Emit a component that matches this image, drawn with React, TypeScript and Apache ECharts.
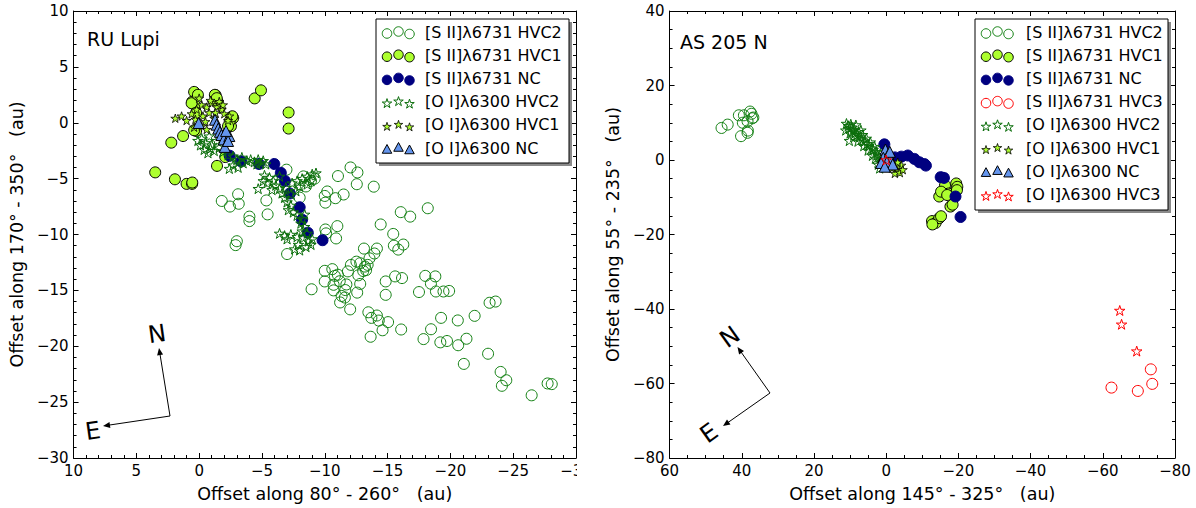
import React, { useEffect, useRef } from 'react';
import * as echarts from 'echarts';

// ---------- RU Lupi (left panel) ----------
const ruSiiHvc2: number[][] = [
  [-1.8, -7.0], [-2.45, -7.5], [-3.15, -7.25], [-3.1, -6.4], [-4.0, -8.4], [-4.0, -8.8], [-3.0, -10.6], [-2.9, -10.95],
  [-5.45, -8.2], [-5.35, -6.95], [-6.95, -4.2], [-8.0, -6.7], [-7.0, -11.75], [-8.95, -14.9], [-10.0, -6.55], [-10.2, -6.15],
  [-11.05, -4.77], [-12.05, -4.0], [-12.6, -4.45], [-12.55, -5.5], [-13.9, -5.72], [-11.5, -6.42], [-10.85, -6.75], [-10.05, -7.15],
  [-10.05, -9.55], [-10.1, -9.9], [-11.0, -9.25], [-10.9, -10.35], [-8.3, -4.8], [-8.9, -5.2], [-8.5, -5.7], [-9.2, -5.0],
  [-10.0, -13.25], [-10.0, -14.2], [-10.6, -13.1], [-10.8, -13.7], [-10.7, -14.5], [-10.7, -15.0],
  [-11.04, -13.6], [-11.19, -14.18], [-11.72, -14.47], [-11.63, -14.97], [-11.84, -13.3], [-12.08, -12.72], [-12.52, -12.43],
  [-12.82, -12.57], [-12.67, -13.65], [-13.12, -11.26], [-13.56, -12.13], [-14.15, -11.26], [-13.95, -11.7], [-13.29, -13.19],
  [-13.41, -12.72], [-11.34, -15.5], [-11.22, -16.08], [-11.6, -15.64], [-12.02, -16.7], [-12.82, -14.42], [-12.58, -15.2],
  [-13.06, -13.27], [-13.2, -12.87],
  [-14.45, -9.1], [-15.45, -9.95], [-15.5, -11.0], [-15.85, -11.35], [-16.25, -10.9], [-16.05, -8.0], [-16.8, -8.4], [-18.2, -7.65],
  [-14.85, -14.2], [-14.85, -15.4], [-15.6, -13.75], [-16.15, -13.9], [-17.5, -15.15], [-18.0, -13.7], [-18.45, -14.4],
  [-18.8, -13.75], [-18.85, -15.1], [-19.45, -15.1], [-19.9, -15.05],
  [-13.47, -16.96], [-13.71, -17.46], [-14.15, -17.25], [-14.3, -17.7], [-13.65, -19.15], [-14.6, -18.57], [-15.04, -17.84],
  [-16.08, -18.5], [-19.26, -17.46], [-18.46, -18.48], [-17.86, -19.36], [-19.2, -19.65], [-19.73, -19.53], [-20.59, -17.69],
  [-20.62, -19.91], [-21.28, -19.33], [-21.93, -17.28], [-21.07, -21.58], [-23.0, -20.67], [-23.12, -16.11], [-23.6, -16.0],
  [-24.0, -22.3], [-24.1, -23.54], [-24.45, -23.04], [-26.47, -24.39], [-27.74, -23.33], [-28.07, -23.39],
];
const ruSiiHvc1: number[][] = [
  [0.4, 2.76], [0.56, 1.88], [-1.31, 2.47], [-1.47, 1.88], [-2.53, -0.31], [-2.71, 0.42], [-4.42, 2.18], [-4.92, 2.9],
  [-7.12, 0.92], [-7.12, -0.52], [2.22, -1.78], [1.28, -1.19], [1.93, -5.06], [1.0, -5.47], [0.56, -5.47], [-1.42, -3.86],
  [3.5, -4.44], [-2.08, -3.07], [0.36, 1.6], [0.6, 1.75], [0.1, 2.5], [-1.25, 2.5], [-1.4, 2.2], [0.24, -0.73], [0.4, -0.67],
  [-2.43, 0.15], [-2.64, 0.58], [-2.3, -0.3], [0.24, 0.88], [0.55, -5.35],
];
const ruSiiNc: number[][] = [
  [-2.43, -2.95], [-3.33, -3.45], [-4.76, -3.69], [-5.98, -3.69], [-6.5, -4.48], [-6.83, -5.21], [-7.22, -6.33],
  [-8.0, -7.56], [-8.19, -8.67], [-8.65, -9.84], [-9.82, -10.51],
];
const ruOiHvc2: number[][] = [
  [-0.2, -1.4], [-0.5, -1.8], [-0.8, -1.2], [-1.0, -2.0], [-0.4, -2.4], [-0.7, -2.7], [-1.2, -2.5], [-1.4, -1.6], [-0.1, -2.0],
  [-0.9, -2.3], [-1.6, -2.2], [0.1, -1.6],
  [-1.9, -2.6], [-2.3, -2.9], [-2.7, -3.0], [-3.0, -3.3], [-3.4, -3.1], [-3.8, -3.4], [-4.1, -3.3], [-4.4, -3.5], [-4.7, -3.3],
  [-4.9, -3.6], [-5.1, -3.4], [-5.3, -3.7], [-4.6, -3.7], [-2.4, -4.1], [-2.7, -3.8], [-3.5, -3.6], [-3.1, -4.0],
  [-5.2, -4.7], [-5.6, -4.9], [-5.9, -5.2], [-5.4, -5.4], [-6.1, -5.6], [-5.8, -6.0], [-6.4, -5.9], [-6.6, -6.3], [-4.7, -5.9],
  [-5.1, -5.2], [-6.8, -6.7], [-7.0, -7.1], [-7.3, -7.4], [-7.1, -7.8], [-7.5, -8.0], [-7.8, -8.3], [-8.2, -8.6], [-8.4, -8.2],
  [-8.1, -9.0], [-8.4, -9.3], [-8.2, -9.7], [-8.6, -9.9], [-8.3, -10.3], [-7.8, -10.2], [-7.3, -10.0], [-6.8, -10.1],
  [-6.4, -9.9], [-7.0, -10.4], [-8.7, -10.6], [-8.9, -10.9], [-8.5, -11.1], [-7.9, -10.9], [-7.6, -11.3], [-9.0, -10.4],
  [-8.0, -11.4],
  [-7.4, -5.4], [-7.8, -5.2], [-8.2, -5.0], [-8.6, -4.8], [-9.0, -4.6], [-9.3, -4.5], [-8.0, -5.7], [-7.7, -6.1], [-8.6, -5.5],
  [-8.9, -5.2], [-7.3, -6.4], [-6.9, -5.8], [-6.4, -4.8],
];
const ruOiHvc1: number[][] = [
  [1.9, 0.4], [1.4, 0.6], [1.0, 0.2], [0.6, 0.8], [0.2, 1.2], [-0.2, 1.6], [-0.6, 1.4], [-1.0, 1.8], [-1.4, 1.4], [-1.8, 1.2],
  [-2.0, 0.8], [-2.4, 0.6], [-0.3, 0.6], [-0.8, 0.9], [0.3, 0.3], [-1.2, 0.4], [-0.5, 0.1], [0.0, 2.2], [-0.9, 2.0], [-1.6, 1.9],
  [-0.2, -0.3], [-0.6, -0.6], [0.4, -0.4], [-1.3, 0.9], [-2.3, 0.2], [-1.9, 1.6],
];
const ruOiNc: number[][] = [
  [0.04, -0.02], [-1.26, 0.27], [-1.39, -0.17], [-1.52, -0.52], [-1.65, -0.81], [-1.77, -1.1], [-1.96, -1.49], [-2.04, -2.16],
  [-2.4, -1.19], [-2.3, -1.63], [-2.14, -0.73],
];

// ---------- AS 205 N (right panel) ----------
const asSiiHvc2: number[][] = [
  [45.6, 8.6], [43.9, 9.5], [40.8, 12.0], [39.4, 12.0], [37.7, 13.0], [37.3, 12.4], [36.8, 11.4], [38.4, 10.4], [37.1, 11.2],
  [39.7, 10.0], [40.2, 6.4], [38.4, 7.3], [38.3, 7.9],
];
const asSiiHvc1: number[][] = [
  [-16.3, -6.8], [-19.4, -6.3], [-19.7, -7.2], [-18.0, -9.0], [-17.3, -9.0], [-14.7, -9.8], [-15.2, -8.5], [-17.8, -12.5],
  [-18.4, -12.0], [-12.7, -16.4], [-13.7, -16.9], [-14.7, -15.6], [-15.2, -15.1], [-12.8, -17.3], [-19.6, -8.1], [-16.9, -9.4],
];
const asSiiNc: number[][] = [
  [0.5, 4.2], [-2.4, 0.7], [-4.2, 0.9], [-6.0, 1.2], [-7.8, 0.3], [-9.2, -0.6], [-10.6, -1.1], [-11.0, -1.5], [-15.1, -4.6],
  [-16.0, -4.8], [-19.2, -9.8], [-20.6, -15.3],
];
const asSiiHvc3: number[][] = [[-62.4, -61.1], [-69.7, -62.0], [-73.3, -56.2], [-73.7, -60.1]];
const asOiHvc2: number[][] = [
  [11.0, 9.8], [10.5, 9.2], [10.2, 8.5], [11.2, 8.0], [9.8, 9.6], [9.5, 8.8], [9.2, 7.9], [10.0, 7.2], [8.8, 8.2], [8.5, 7.4],
  [8.0, 6.8], [7.6, 7.6], [7.2, 6.2], [6.8, 5.6], [6.5, 6.8], [6.0, 5.0], [5.5, 5.8], [5.2, 4.4], [4.8, 3.8], [4.4, 4.8],
  [4.0, 3.2], [3.6, 2.8], [3.2, 3.6], [2.8, 2.2], [2.4, 1.4], [2.0, 0.8], [1.6, 1.8], [1.2, 0.2], [0.8, -0.6], [2.2, -1.2],
  [1.8, -2.2], [3.0, 0.4], [10.2, 5.2], [9.0, 6.2], [7.8, 5.0], [6.2, 3.8], [5.0, 2.6], [3.8, 1.2], [7.0, 8.0], [8.4, 9.4],
];
const asOiHvc1: number[][] = [
  [-2.0, -1.0], [-2.8, -1.6], [-3.5, -2.2], [-4.2, -1.4], [-3.0, -3.0], [-2.4, -3.6], [-3.8, -3.4], [-4.6, -2.6], [-1.6, -2.2],
  [-3.2, -0.6],
];
const asOiNc: number[][] = [
  [0.2, 2.8], [-0.6, 1.6], [0.8, 0.6], [-1.2, 0.2], [-0.2, -0.6], [1.4, -0.8], [-1.8, -1.2], [0.4, -1.8], [-1.0, 2.2],
];
const asOiHvc3: number[][] = [[0, 0], [-64.7, -40.4], [-65.2, -44.1], [-69.4, -51.3]];

const ruLegendLabels = [
  '[S II]λ6731 HVC2', '[S II]λ6731 HVC1', '[S II]λ6731 NC', '[O I]λ6300 HVC2', '[O I]λ6300 HVC1', '[O I]λ6300 NC',
];
const asLegendLabels = [
  '[S II]λ6731 HVC2', '[S II]λ6731 HVC1', '[S II]λ6731 NC', '[S II]λ6731 HVC3',
  '[O I]λ6300 HVC2', '[O I]λ6300 HVC1', '[O I]λ6300 NC', '[O I]λ6300 HVC3',
];

const FONT = 'DejaVu Sans';
const STAR = 'path://M50,0 L61.2,34.6 L97.6,34.5 L68.1,55.9 L79.4,90.5 L50,69 L20.6,90.5 L31.9,55.9 L2.4,34.5 L38.8,34.6 Z';
const CLEAR = 'rgba(0,0,0,0)';

type Sty = { kind: 'circle' | 'star' | 'tri'; fill: string; stroke: string; size: number; lsize: number; lw: number };
const S_HVC2: Sty = { kind: 'circle', fill: CLEAR, stroke: '#118011', size: 11, lsize: 9.5, lw: 1 };
const S_HVC1: Sty = { kind: 'circle', fill: '#adff2f', stroke: '#000', size: 11, lsize: 9.5, lw: 1 };
const S_NC: Sty = { kind: 'circle', fill: '#000080', stroke: '#000080', size: 11, lsize: 9.5, lw: 1 };
const S_HVC3: Sty = { kind: 'circle', fill: CLEAR, stroke: '#ff0000', size: 11, lsize: 9.5, lw: 1 };
const O_HVC2: Sty = { kind: 'star', fill: CLEAR, stroke: '#0b6e0b', size: 10.5, lsize: 9, lw: 1 };
const O_HVC1: Sty = { kind: 'star', fill: '#adff2f', stroke: '#000', size: 9, lsize: 8, lw: 0.8 };
const O_NC: Sty = { kind: 'tri', fill: '#6495ed', stroke: '#000', size: 11, lsize: 10, lw: 1 };
const O_HVC3: Sty = { kind: 'star', fill: CLEAR, stroke: '#ff0000', size: 10.5, lsize: 9, lw: 1 };

function series(name: string, data: number[][], s: Sty) {
  return {
    type: 'scatter', name, data, xAxisIndex: 0, yAxisIndex: 0,
    symbol: s.kind === 'circle' ? 'circle' : s.kind === 'tri' ? 'triangle' : STAR,
    symbolKeepAspect: true,
    symbolSize: s.size,
    itemStyle: { color: s.fill, borderColor: s.stroke, borderWidth: s.lw, opacity: 1 },
    silent: true,
  };
}

const minus = (v: number) => String(v).replace('-', '\u2212');

function axes(xr: number[], xInt: number, xMinor: number, yr: number[], yInt: number, yMinor: number, xName: string, yName: string) {
  const base = (min: number, max: number, interval: number, minor: number) => ({
    type: 'value', min, max, interval,
    axisLine: { show: true, onZero: false, lineStyle: { color: '#000', width: 1 } },
    axisTick: { show: true, inside: true, length: 5, lineStyle: { color: '#000', width: 1 } },
    minorTick: { show: true, splitNumber: minor, length: 3, lineStyle: { color: '#000', width: 1 } },
    splitLine: { show: false },
    minorSplitLine: { show: false },
    axisLabel: { show: true, color: '#000', fontSize: 15, fontFamily: FONT, margin: 5, formatter: minus },
  });
  const nameStyle = { color: '#000', fontSize: 17.5, fontFamily: FONT };
  return {
    xAxis: [
      { ...base(xr[0], xr[1], xInt, xMinor), inverse: true, position: 'bottom', name: xName, nameLocation: 'middle', nameGap: 27, nameTextStyle: nameStyle },
      { ...base(xr[0], xr[1], xInt, xMinor), inverse: true, position: 'top', axisLabel: { show: false } },
    ],
    yAxis: [
      { ...base(yr[0], yr[1], yInt, yMinor), position: 'left', name: yName, nameLocation: 'middle', nameGap: 44, nameTextStyle: nameStyle },
      { ...base(yr[0], yr[1], yInt, yMinor), position: 'right', axisLabel: { show: false } },
    ],
  };
}

function starPts(cx: number, cy: number, R: number) {
  const pts: number[][] = [];
  for (let k = 0; k < 10; k++) {
    const a = (-90 + k * 36) * Math.PI / 180;
    const r = k % 2 === 0 ? R : R * 0.38;
    pts.push([cx + r * Math.cos(a), cy + r * Math.sin(a)]);
  }
  return pts;
}

function icon(s: Sty, cx: number, cy: number) {
  const style = { fill: s.fill === CLEAR ? 'none' : s.fill, stroke: s.stroke, lineWidth: s.lw };
  const r = s.lsize / 2;
  if (s.kind === 'circle') return { type: 'circle', z: 101, shape: { cx, cy, r }, style };
  if (s.kind === 'tri') return { type: 'polygon', z: 101, shape: { points: [[cx, cy - r], [cx + r * 0.95, cy + r * 0.75], [cx - r * 0.95, cy + r * 0.75]] }, style };
  return { type: 'polygon', z: 101, shape: { points: starPts(cx, cy + 0.5, r + 0.5) }, style };
}

function legend(x0: number, y0: number, w: number, h: number, labels: string[], stys: Sty[], mx: number[], tx: number) {
  const els: any[] = [
    { type: 'rect', z: 99, shape: { x: x0 + 3, y: y0 + 3, width: w, height: h }, style: { fill: '#8a8a8a' } },
    { type: 'rect', z: 100, shape: { x: x0, y: y0, width: w, height: h }, style: { fill: '#fff', stroke: '#000', lineWidth: 1 } },
  ];
  const dy = [1.5, -0.5, 2];
  labels.forEach((lab, i) => {
    const y = y0 + 13 + i * 23.2;
    mx.forEach((x, j) => els.push(icon(stys[i], x, y + dy[j])));
    els.push({ type: 'text', z: 101, x: tx, y: y, style: { text: lab, fontSize: 16, fontFamily: FONT, fill: '#000', align: 'left', verticalAlign: 'middle' } });
  });
  return els;
}

function arrow(x0: number, y0: number, x1: number, y1: number) {
  const dx = x1 - x0, dy = y1 - y0, L = Math.hypot(dx, dy), ux = dx / L, uy = dy / L;
  const hl = 7, hw = 3;
  const bx = x1 - ux * hl, by = y1 - uy * hl;
  return [
    { type: 'line', z: 50, shape: { x1: x0, y1: y0, x2: bx + ux * 1, y2: by + uy * 1 }, style: { stroke: '#000', lineWidth: 1 } },
    { type: 'polygon', z: 50, shape: { points: [[x1, y1], [bx - uy * hw, by + ux * hw], [bx + uy * hw, by - ux * hw]] }, style: { fill: '#000' } },
  ];
}

function compassText(t: string, x: number, y: number, rot: number) {
  return { type: 'text', z: 50, x, y, rotation: rot, style: { text: t, fontSize: 24, fontFamily: FONT, fill: '#000', align: 'center', verticalAlign: 'middle' } };
}

const ruStys = [S_HVC2, S_HVC1, S_NC, O_HVC2, O_HVC1, O_NC];
const asStys = [S_HVC2, S_HVC1, S_NC, S_HVC3, O_HVC2, O_HVC1, O_NC, O_HVC3];

function leftOption() {
  return {
    animation: false,
    grid: { left: 62, top: 11, width: 514, height: 455, containLabel: false },
    ...axes([-30, 10], 5, 5, [-30, 10], 5, 5, 'Offset along 80° - 260°   (au)', 'Offset along 170° - 350°   (au)'),
    series: [
      series(ruLegendLabels[0], ruSiiHvc2, S_HVC2),
      series(ruLegendLabels[1], ruSiiHvc1, S_HVC1),
      series(ruLegendLabels[2], ruSiiNc, S_NC),
      series(ruLegendLabels[3], ruOiHvc2, O_HVC2),
      series(ruLegendLabels[4], ruOiHvc1, O_HVC1),
      series(ruLegendLabels[5], ruOiNc, O_NC),
    ],
    graphic: [
      { type: 'text', z: 50, x: 87, y: 39, style: { text: 'RU Lupi', fontSize: 19, fontFamily: FONT, fill: '#000', align: 'left', verticalAlign: 'middle' } },
      ...legend(376, 19, 193, 144, ruLegendLabels, ruStys, [387, 398.5, 409.5], 425),
      ...arrow(170, 416, 159, 348),
      ...arrow(170, 416, 103, 426),
      compassText('N', 157, 334, 0.14),
      compassText('E', 93, 431, 0.14),
    ],
  };
}

function rightOption() {
  const off = 596;
  return {
    animation: false,
    grid: { left: 661 - off, top: 11, width: 514, height: 455, containLabel: false },
    ...axes([-80, 60], 20, 4, [-80, 40], 20, 4, 'Offset along 145° - 325°   (au)', 'Offset along 55° - 235°   (au)'),
    series: [
      series(asLegendLabels[0], asSiiHvc2, S_HVC2),
      series(asLegendLabels[1], asSiiHvc1, S_HVC1),
      series(asLegendLabels[2], asSiiNc, S_NC),
      series(asLegendLabels[3], asSiiHvc3, S_HVC3),
      series(asLegendLabels[4], asOiHvc2, O_HVC2),
      series(asLegendLabels[5], asOiHvc1, O_HVC1),
      series(asLegendLabels[6], asOiNc, O_NC),
      series(asLegendLabels[7], asOiHvc3, O_HVC3),
    ],
    graphic: [
      { type: 'text', z: 50, x: 680 - off, y: 42, style: { text: 'AS 205 N', fontSize: 19, fontFamily: FONT, fill: '#000', align: 'left', verticalAlign: 'middle' } },
      ...legend(975 - off, 19, 193, 191, asLegendLabels, asStys, [986 - off, 997.5 - off, 1008.5 - off], 1026 - off),
      ...arrow(770 - off, 393, 737.5 - off, 347),
      ...arrow(770 - off, 393, 723 - off, 426),
      compassText('N', 730 - off, 337, 0.62),
      compassText('E', 709 - off, 433, 0.62),
    ],
  };
}

export default function App() {
  const leftRef = useRef<HTMLDivElement>(null);
  const rightRef = useRef<HTMLDivElement>(null);
  useEffect(() => {
    const l = echarts.init(leftRef.current as HTMLDivElement, null, { renderer: 'svg' });
    const r = echarts.init(rightRef.current as HTMLDivElement, null, { renderer: 'svg' });
    l.setOption(leftOption() as any);
    r.setOption(rightOption() as any);
    return () => { l.dispose(); r.dispose(); };
  }, []);
  return (
    <div style={{ position: 'fixed', left: 0, top: 0, width: 1196, height: 508, background: '#fff' }}>
      <div style={{ position: 'absolute', left: 0, top: 0, width: 577, height: 508, overflow: 'hidden' }}>
        <div ref={leftRef} style={{ width: 600, height: 508 }} />
      </div>
      <div ref={rightRef} style={{ position: 'absolute', left: 596, top: 0, width: 600, height: 508 }} />
    </div>
  );
}
